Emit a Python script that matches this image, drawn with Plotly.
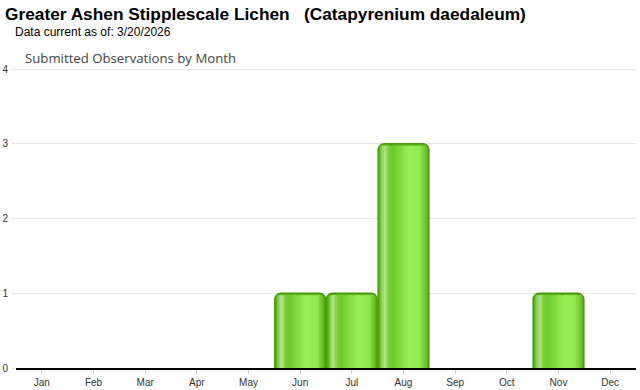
import plotly.graph_objects as go

months = ["Jan", "Feb", "Mar", "Apr", "May", "Jun", "Jul", "Aug", "Sep", "Oct", "Nov", "Dec"]
counts = [0, 0, 0, 0, 0, 1, 1, 3, 0, 0, 1, 0]
y_ticks = [0, 1, 2, 3, 4]

title_text = "Greater Ashen Stipplescale Lichen\u00a0\u00a0\u00a0(Catapyrenium daedaleum)"
subtitle_text = "Data current as of: 3/20/2026"
chart_label = "Submitted Observations by Month"

# layout geometry (pixels)
W, H = 640, 390
ml, mr, mt, mb = 16, 4, 66, 22
pw, ph = W - ml - mr, H - mt - mb
pad_top = 3
y_top = 4 * ph / (ph - pad_top)  # leaves room above top gridline so plotly draws it

def px_x(p):
    return (p - ml) / pw

def px_y(p):
    return (H - mb - p) / ph

BAR_W = 0.98

# horizontal gradient stops across a bar (fraction, colour)
stops = [
    (0.00, (0x58, 0xae, 0x16)),
    (0.06, (0x72, 0xc8, 0x32)),
    (0.14, (0xb8, 0xe2, 0x92)),
    (0.21, (0x7e, 0xd0, 0x3e)),
    (0.30, (0x6c, 0xca, 0x2c)),
    (0.62, (0x98, 0xf0, 0x56)),
    (0.84, (0x90, 0xea, 0x4e)),
    (0.93, (0x70, 0xc8, 0x2e)),
    (1.00, (0x52, 0xa6, 0x12)),
]

def grad(t):
    for (t0, c0), (t1, c1) in zip(stops, stops[1:]):
        if t0 <= t <= t1:
            f = (t - t0) / (t1 - t0) if t1 > t0 else 0
            c = [round(a + (b - a) * f) for a, b in zip(c0, c1)]
            return "rgb(%d,%d,%d)" % tuple(c)
    return "rgb(%d,%d,%d)" % stops[-1][1]

fig = go.Figure()

# base bar with rounded corners and dark green outline (no outline on empty months)
fig.add_trace(go.Bar(
    x=months, y=counts, width=BAR_W,
    marker=dict(color="#5cb21c",
                line=dict(color="#4a9a0e", width=[1.5 if c > 0 else 0 for c in counts]),
                cornerradius=6),
    hoverinfo="x+y", showlegend=False,
))

# gradient stripes (inset slightly from edges & top)
cat_px = pw / len(months)
inset = 2.5 / cat_px
N = 40
x0 = -BAR_W / 2 + inset
span = BAR_W - 2 * inset
sw = span / N
for i in range(N):
    off = x0 + i * sw
    t = (off + sw / 2 + BAR_W / 2) / BAR_W
    fig.add_trace(go.Bar(
        x=months, y=counts, base=-0.028, width=sw * 1.05, offset=off,
        marker=dict(color=grad(t), line=dict(width=0)),
        hoverinfo="skip", showlegend=False,
    ))

fig.update_layout(
    width=W, height=H,
    margin=dict(l=ml, r=mr, t=mt, b=mb, autoexpand=False),
    paper_bgcolor="white", plot_bgcolor="white",
    barmode="overlay", bargap=0.02,
    showlegend=False,
    font=dict(family="Liberation Sans, Arial, sans-serif", color="#333"),
    xaxis=dict(
        type="category", categoryorder="array", categoryarray=months,
        showline=True, linecolor="black", linewidth=2,
        ticks="outside", ticklen=4, tickcolor="#cccccc",
        tickfont=dict(size=10, color="#333"),
        showgrid=False, zeroline=False, fixedrange=True, automargin=False,
    ),
    yaxis=dict(
        range=[0, y_top], tickvals=y_ticks, ticktext=[str(v) for v in y_ticks],
        showgrid=True, gridcolor="#e4e4e4", gridwidth=1,
        tickfont=dict(size=10, color="#333"),
        zeroline=False, showline=False,
        ticks="outside", ticklen=3, tickcolor="#e4e4e4",
        ticklabelstandoff=2,
        fixedrange=True, automargin=False,
    ),
    annotations=[
        dict(text="<b>" + title_text + "</b>", xref="paper", yref="paper",
             x=px_x(3), y=px_y(14), xanchor="left", yanchor="middle",
             showarrow=False, font=dict(size=17.3, color="black",
                                        family="Liberation Sans, Arial, sans-serif")),
        dict(text=subtitle_text, xref="paper", yref="paper",
             x=px_x(13), y=px_y(32), xanchor="left", yanchor="middle",
             showarrow=False, font=dict(size=12, color="black",
                                        family="Liberation Sans, Arial, sans-serif")),
        dict(text=chart_label, xref="paper", yref="paper",
             x=px_x(23), y=px_y(58), xanchor="left", yanchor="middle",
             showarrow=False, font=dict(size=13.2, color="#444",
                                        family="Open Sans, sans-serif")),
    ],
)

fig.write_html("out.html")
